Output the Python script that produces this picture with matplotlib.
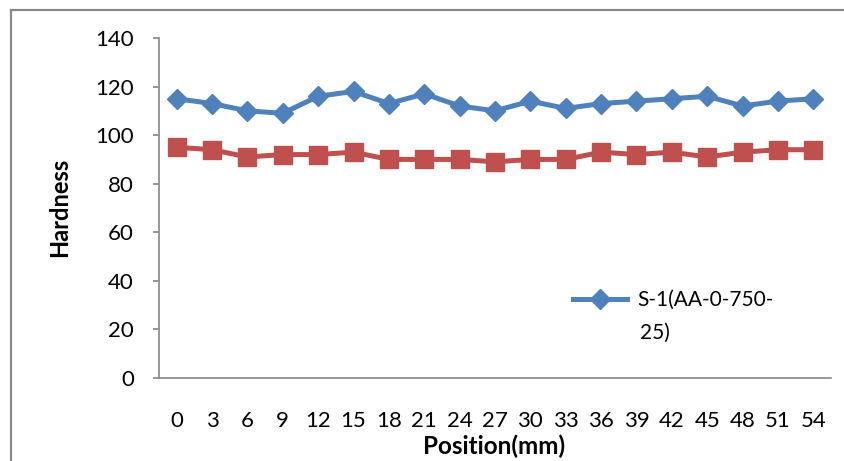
import matplotlib
matplotlib.use("Agg")
import matplotlib.pyplot as plt
from matplotlib.lines import Line2D

plt.rcParams['font.family'] = ['Lato', 'DejaVu Sans']

positions = [0, 3, 6, 9, 12, 15, 18, 21, 24, 27, 30, 33, 36, 39, 42, 45, 48, 51, 54]
s1_values = [115, 113, 110, 109, 116, 118, 113, 117, 112, 110, 114, 111, 113, 114, 115, 116, 112, 114, 115]
s2_values = [95, 94, 91, 92, 92, 93, 90, 90, 90, 89, 90, 90, 93, 92, 93, 91, 93, 94, 94]
s1_label_line1 = "S-1(AA-0-750-"
s1_label_line2 = "25)"
y_ticks = [0, 20, 40, 60, 80, 100, 120, 140]

W, H = 844, 461
fig = plt.figure(figsize=(W / 100, H / 100), dpi=100)
ax = fig.add_axes([159 / W, 83 / H, (831 - 159) / W, (423 - 83) / H])

idx = list(range(len(positions)))
blue = '#4F81BD'
red = '#C0504D'
ax.plot(idx, s2_values, color=red, lw=3.6, marker='s', ms=13, mfc=red, mec=red, zorder=3)
line1, = ax.plot(idx, s1_values, color=blue, lw=3.6, marker='D', ms=10.5, mfc=blue, mec=blue,
                 zorder=4, label=s1_label_line1)

ax.set_xlim(-0.5, len(positions) - 0.5)
ax.set_ylim(0, 140)
ax.set_yticks(y_ticks)
ax.set_xticks(idx)
ax.set_xticklabels([str(p) for p in positions])

gray = '#868686'
for s in ['top', 'right']:
    ax.spines[s].set_visible(False)
for s in ['left', 'bottom']:
    ax.spines[s].set_color(gray)
    ax.spines[s].set_linewidth(1.2)
ax.tick_params(axis='y', length=4, width=1.2, color=gray, pad=14, labelsize=16)
ax.tick_params(axis='x', length=0, pad=24, labelsize=16)

fig.text(494 / W, 1 - 446 / H, 'Position(mm)', ha='center', va='center', fontsize=17.5, fontweight='bold')
fig.text(60 / W, 1 - 207 / H, 'Hardness', ha='center', va='center', rotation=90, fontsize=17, fontweight='bold')

leg = ax.legend(handles=[line1], loc='center left', bbox_to_anchor=(573 / W, 1 - 300 / H),
                bbox_transform=fig.transFigure, frameon=False, fontsize=15,
                handlelength=2.6, handletextpad=0.5, borderpad=0, borderaxespad=0)
fig.text(640 / W, 1 - 333 / H, s1_label_line2, ha='left', va='center', fontsize=15)

fig.add_artist(Line2D([11 / W, 11 / W], [0, 1 - 10 / H], transform=fig.transFigure, color='#898989', lw=1.6))
fig.add_artist(Line2D([11 / W, 1], [1 - 10 / H, 1 - 10 / H], transform=fig.transFigure, color='#898989', lw=1.6))

fig.savefig('out.png', dpi=100)
